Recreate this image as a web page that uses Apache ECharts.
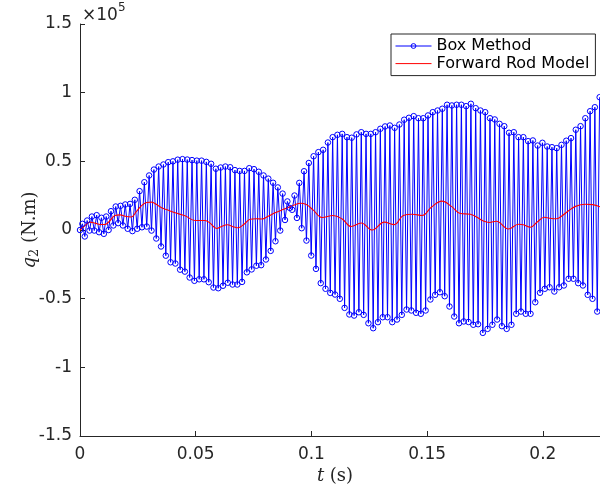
<!DOCTYPE html>
<html>
<head>
<meta charset="utf-8">
<script src="https://cdn.jsdelivr.net/npm/echarts@6/dist/echarts.min.js"></script>
<style>
  html, body { margin: 0; padding: 0; background: #fff; }
  #chart { width: 600px; height: 494px; }
</style>
</head>
<body>
<div id="chart"></div>
<script>
// Sample period of the box-method output (s)
const sampleStep = 0.00103;

// Box Method moment q2, in units of 1e5 N.m, one value per sample
const boxMethod = [
  0.000, 0.045, -0.047, 0.069, -0.004, 0.098, -0.004, 0.108, -0.016, 0.089,
  -0.028, 0.098, 0.000, 0.137, 0.033, 0.171, 0.050, 0.176, 0.033, 0.186,
  0.009, 0.190, -0.008, 0.220, 0.009, 0.283, 0.020, 0.348, 0.025, 0.397,
  -0.004, 0.440, -0.062, 0.462, -0.120, 0.477, -0.187, 0.494, -0.235, 0.500,
  -0.244, 0.512, -0.289, 0.516, -0.303, 0.513, -0.346, 0.509, -0.370, 0.505,
  -0.359, 0.505, -0.359, 0.496, -0.380, 0.482, -0.419, 0.446, -0.424, 0.455,
  -0.406, 0.462, -0.384, 0.457, -0.397, 0.436, -0.397, 0.430, -0.378, 0.430,
  -0.308, 0.450, -0.287, 0.443, -0.260, 0.424, -0.256, 0.397, -0.215, 0.374,
  -0.152, 0.344, -0.082, 0.310, -0.004, 0.265, 0.073, 0.208, 0.161, 0.147,
  0.251, 0.088, 0.343, 0.013, 0.428, -0.077, 0.488, -0.186, 0.537, -0.283,
  0.567, -0.387, 0.584, -0.428, 0.637, -0.458, 0.676, -0.470, 0.693, -0.501,
  0.700, -0.567, 0.676, -0.615, 0.672, -0.623, 0.696, -0.599, 0.712, -0.618,
  0.700, -0.679, 0.700, -0.715, 0.712, -0.671, 0.737, -0.635, 0.754, -0.635,
  0.761, -0.671, 0.744, -0.652, 0.768, -0.618, 0.803, -0.579, 0.817, -0.586,
  0.829, -0.603, 0.814, -0.610, 0.814, -0.586, 0.834, -0.506, 0.858, -0.472,
  0.870, -0.453, 0.883, -0.482, 0.912, -0.557, 0.907, -0.630, 0.912, -0.679,
  0.912, -0.666, 0.902, -0.670, 0.919, -0.690, 0.887, -0.686, 0.870, -0.749,
  0.858, -0.720, 0.814, -0.690, 0.805, -0.652, 0.773, -0.700, 0.756, -0.720,
  0.708, -0.690, 0.712, -0.610, 0.676, -0.594, 0.676, -0.610, 0.647, -0.610,
  0.652, -0.526, 0.615, -0.457, 0.635, -0.428, 0.608, -0.417, 0.603, -0.448,
  0.596, -0.417, 0.620, -0.404, 0.650, -0.355, 0.669, -0.355, 0.730, -0.387,
  0.756, -0.404, 0.814, -0.472, 0.865, -0.501, 0.894, -0.594, 0.967
];

// Forward Rod Model moment q2 (1e5 N.m) at its own time stamps (s)
const rodTime = [
  0.0000, 0.0022, 0.0043, 0.0065, 0.0087, 0.0108, 0.0130, 0.0151, 0.0173, 0.0195,
  0.0221, 0.0244, 0.0266, 0.0288, 0.0309, 0.0331, 0.0355, 0.0376, 0.0411, 0.0454,
  0.0497, 0.0541, 0.0562, 0.0591, 0.0614, 0.0636, 0.0666, 0.0683, 0.0709, 0.0735,
  0.0761, 0.0787, 0.0813, 0.0843, 0.0874, 0.0900, 0.0926, 0.0952, 0.0978, 0.1008,
  0.1047, 0.1094, 0.1133, 0.1172, 0.1215, 0.1263, 0.1315, 0.1358, 0.1397, 0.1436,
  0.1479, 0.1518, 0.1564, 0.1605, 0.1644, 0.1687, 0.1743, 0.1769, 0.1799, 0.1851,
  0.1895, 0.1916, 0.1946, 0.1977, 0.2007, 0.2029, 0.2059, 0.2085, 0.2111, 0.2141,
  0.2184, 0.2215, 0.2249
];
const rodModel = [
  0.000, 0.033, 0.057, 0.050, 0.040, 0.040, 0.069, 0.106, 0.110, 0.100,
  0.095, 0.135, 0.178, 0.200, 0.203, 0.185, 0.160, 0.147, 0.125, 0.103,
  0.069, 0.069, 0.050, 0.011, 0.028, 0.038, 0.022, 0.016, 0.042, 0.078,
  0.082, 0.080, 0.100, 0.125, 0.147, 0.164, 0.182, 0.195, 0.185, 0.145,
  0.091, 0.106, 0.080, 0.025, 0.051, 0.000, 0.057, 0.039, 0.106, 0.115,
  0.106, 0.166, 0.210, 0.172, 0.120, 0.115, 0.065, 0.055, 0.064, 0.007,
  0.042, 0.038, 0.020, 0.060, 0.093, 0.086, 0.082, 0.106, 0.140, 0.172,
  0.187, 0.185, 0.168
];

// Axis ranges and ticks
const xMin = 0, xMax = 0.2247, xStep = 0.05;
const yMin = -1.5, yMax = 1.5, yStep = 0.5;

const boxData = boxMethod.map((v, i) => [i * sampleStep, v]);
const rodData = rodTime.map((t, i) => [t, rodModel[i]]);

const ink = '#262626';
const sans = 'DejaVu Sans';
const serif = 'DejaVu Serif';

const chart = echarts.init(document.getElementById('chart'), null, { renderer: 'canvas' });
chart.setOption({
  animation: false,
  backgroundColor: '#fff',
  grid: { left: 80, right: 0, top: 24, bottom: 58, containLabel: false },
  xAxis: {
    type: 'value', min: xMin, max: xMax, interval: xStep,
    axisLine: { show: true, onZero: false, lineStyle: { color: ink, width: 1 } },
    axisTick: { show: true, inside: true, length: 5, lineStyle: { color: ink } },
    axisLabel: { color: ink, fontFamily: sans, fontSize: 17, margin: 10, showMaxLabel: false },
    splitLine: { show: false }
  },
  yAxis: {
    type: 'value', min: yMin, max: yMax, interval: yStep,
    axisLine: { show: true, onZero: false, lineStyle: { color: ink, width: 1 } },
    axisTick: { show: true, inside: true, length: 5, lineStyle: { color: ink } },
    axisLabel: { color: ink, fontFamily: sans, fontSize: 17, margin: 8 },
    splitLine: { show: false }
  },
  legend: {
    orient: 'vertical', left: 391, top: 34,
    backgroundColor: '#fff', borderColor: ink, borderWidth: 1, borderRadius: 0,
    padding: [4, 6, 4, 4], itemGap: 1.6, itemWidth: 36, itemHeight: 6,
    lineStyle: { width: 1 },
    textStyle: { color: '#000', fontFamily: sans, fontSize: 16, lineHeight: 16 },
    data: [
      { name: 'Box Method', itemStyle: { borderWidth: 1 } },
      { name: 'Forward Rod Model', itemStyle: { opacity: 0 } }
    ]
  },
  series: [
    {
      name: 'Box Method', type: 'line', data: boxData,
      showAllSymbol: true, symbol: 'circle', symbolSize: 5.5,
      sampling: null,
      lineStyle: { color: '#0000ff', width: 1 },
      itemStyle: { color: 'rgba(255,255,255,0)', borderColor: '#0000ff', borderWidth: 1 },
      emphasis: { disabled: true }
    },
    {
      name: 'Forward Rod Model', type: 'line', data: rodData,
      showSymbol: false, symbol: 'none', smooth: 0.4,
      lineStyle: { color: '#ff0000', width: 1.1 },
      itemStyle: { color: '#ff0000' },
      emphasis: { disabled: true }
    }
  ],
  graphic: [
    {
      type: 'text', left: 82, top: 2,
      style: {
        text: '{m|×10}{e|5}',
        rich: {
          m: { fontFamily: sans, fontSize: 17, fill: ink, color: ink, verticalAlign: 'bottom', lineHeight: 22 },
          e: { fontFamily: sans, fontSize: 12, fill: ink, color: ink, verticalAlign: 'top', lineHeight: 22 }
        }
      }
    },
    {
      type: 'text', x: 335, y: 476,
      style: {
        text: '{i|t}{r| (s)}',
        align: 'center', verticalAlign: 'middle',
        textAlign: 'center', textVerticalAlign: 'middle',
        rich: {
          i: { fontFamily: serif, fontStyle: 'italic', fontSize: 18, color: ink, fill: ink },
          r: { fontFamily: serif, fontSize: 18, color: ink, fill: ink }
        }
      }
    },
    {
      type: 'text', x: 30, y: 230, rotation: Math.PI / 2,
      style: {
        text: '{i|q}{s|2}{r| (N.m)}',
        align: 'center', verticalAlign: 'middle',
        textAlign: 'center', textVerticalAlign: 'middle',
        rich: {
          i: { fontFamily: serif, fontStyle: 'italic', fontSize: 18, color: ink, fill: ink, lineHeight: 22, verticalAlign: 'middle' },
          s: { fontFamily: serif, fontSize: 13, color: ink, fill: ink, lineHeight: 13, verticalAlign: 'bottom' },
          r: { fontFamily: serif, fontSize: 18, color: ink, fill: ink, lineHeight: 22, verticalAlign: 'middle' }
        }
      }
    }
  ]
});
</script>
</body>
</html>
